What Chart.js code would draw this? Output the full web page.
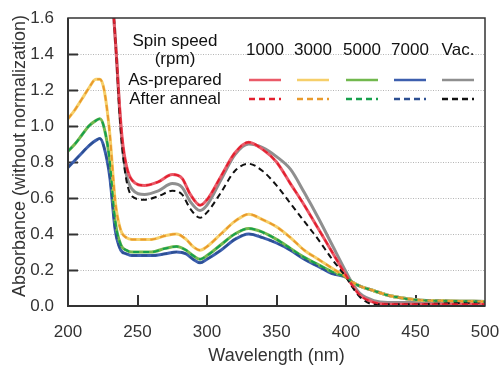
<!DOCTYPE html>
<html>
<head>
<meta charset="utf-8">
<script src="https://cdn.jsdelivr.net/npm/chart.js@4.4.0/dist/chart.umd.min.js"></script>
<style>
  body { margin: 0; background: #fff; }
  canvas { display: block; }
</style>
</head>
<body>
<canvas id="absChart" width="500" height="371"></canvas>
<script>
// wavelength grids (nm)
const wlLow = [200, 205, 210, 215, 220, 223, 226, 230, 234, 238, 242, 246, 250, 260, 270, 278, 285, 290, 295, 300,
    310, 320, 330, 340, 350, 360, 370, 380, 390, 400, 405, 410, 420, 430, 450, 475, 500];
const wlHigh = [226, 230, 233, 235, 237, 239, 242, 246, 255, 265, 275, 282, 288, 295, 300, 310, 320, 330, 340, 350,
    360, 370, 380, 390, 400, 405, 410, 420, 430, 450, 475, 500];

// absorbance, as-prepared films
const abs1000 = [2.6, 1.9, 1.6, 1.37, 1.12, 0.93, 0.78, 0.70, 0.67, 0.69, 0.73, 0.71, 0.62, 0.56, 0.59, 0.72,
    0.85, 0.91, 0.87, 0.80, 0.68, 0.56, 0.43, 0.30, 0.17, 0.11, 0.06, 0.02, 0.01, 0.01, 0.01, 0.01];
const abs3000 = [1.04, 1.09, 1.15, 1.21, 1.26, 1.26, 1.20, 0.96, 0.58, 0.42, 0.38, 0.37, 0.37, 0.37, 0.39, 0.40,
    0.37, 0.33, 0.31, 0.33, 0.40, 0.47, 0.51, 0.48, 0.44, 0.38, 0.31, 0.26, 0.21, 0.16, 0.13, 0.11, 0.085, 0.06,
    0.035, 0.028, 0.025];
const abs5000 = [0.86, 0.90, 0.95, 1.00, 1.03, 1.04, 0.99, 0.81, 0.47, 0.34, 0.31, 0.30, 0.30, 0.30, 0.32, 0.33,
    0.31, 0.28, 0.26, 0.28, 0.34, 0.40, 0.43, 0.41, 0.37, 0.32, 0.27, 0.23, 0.19, 0.16, 0.13, 0.11, 0.085, 0.06,
    0.035, 0.028, 0.025];
const abs7000 = [0.77, 0.81, 0.85, 0.89, 0.92, 0.93, 0.88, 0.72, 0.42, 0.31, 0.29, 0.28, 0.28, 0.28, 0.29, 0.30,
    0.29, 0.26, 0.24, 0.26, 0.31, 0.37, 0.40, 0.38, 0.35, 0.31, 0.26, 0.22, 0.18, 0.16, 0.13, 0.11, 0.085, 0.06,
    0.035, 0.028, 0.025];
const absVac = [2.6, 1.9, 1.6, 1.37, 1.10, 0.90, 0.73, 0.65, 0.62, 0.64, 0.68, 0.66, 0.58, 0.53, 0.56, 0.70,
    0.84, 0.90, 0.88, 0.83, 0.76, 0.63, 0.49, 0.34, 0.19, 0.12, 0.07, 0.03, 0.02, 0.02, 0.02, 0.02];

// absorbance after anneal (1000-7000 overlap the as-prepared spectra)
const ann1000 = abs1000;
const ann3000 = abs3000;
const ann5000 = abs5000;
const ann7000 = abs7000;
const annVac = [2.6, 1.9, 1.6, 1.36, 1.08, 0.88, 0.70, 0.61, 0.59, 0.61, 0.64, 0.62, 0.54, 0.49, 0.52, 0.63,
    0.75, 0.79, 0.75, 0.67, 0.57, 0.47, 0.37, 0.26, 0.16, 0.10, 0.05, 0.01, 0.01, 0.01, 0.015, 0.02];

const speeds = ['1000', '3000', '5000', '7000', 'Vac.'];
const xTicks = [200, 250, 300, 350, 400, 450, 500];
const yTicks = [0, 0.2, 0.4, 0.6, 0.8, 1.0, 1.2, 1.4, 1.6];

const solidColors = ['#ea5a68', '#f6cf6a', '#72b84e', '#3d5fae', '#8f8f8f'];
const dashColors = ['#e3202f', '#e99a2c', '#17a04c', '#2c4f92', '#111111'];

const FONT = 'Arial, "Liberation Sans", Helvetica, sans-serif';

function pts(xs, ys) {
    return xs.map((x, i) => ({ x: x, y: ys[i] }));
}

const asPrepared = [
    pts(wlHigh, abs1000), pts(wlLow, abs3000), pts(wlLow, abs5000), pts(wlLow, abs7000), pts(wlHigh, absVac)
];
const annealed = [
    pts(wlHigh, ann1000), pts(wlLow, ann3000), pts(wlLow, ann5000), pts(wlLow, ann7000), pts(wlHigh, annVac)
];

const datasets = [];
speeds.forEach((s, i) => {
    datasets.push({
        label: s + ' as-prepared',
        data: asPrepared[i],
        borderColor: solidColors[i],
        borderWidth: 3,
        pointRadius: 0,
        fill: false,
        cubicInterpolationMode: 'monotone',
        order: 2
    });
});
speeds.forEach((s, i) => {
    datasets.push({
        label: s + ' after anneal',
        data: annealed[i],
        borderColor: dashColors[i],
        borderWidth: 2,
        borderDash: [6, 4],
        pointRadius: 0,
        fill: false,
        cubicInterpolationMode: 'monotone',
        order: 1
    });
});

// dotted grid, inward ticks, frame, titles and the legend table
const decor = {
    id: 'decor',
    beforeDatasetsDraw(chart) {
        const { ctx, chartArea: a, scales } = chart;
        ctx.save();
        ctx.strokeStyle = '#b5b5b5';
        ctx.lineWidth = 1;
        ctx.setLineDash([1, 1.5]);
        yTicks.slice(1, -1).forEach(v => {
            const y = Math.round(scales.y.getPixelForValue(v)) + 0.5;
            ctx.beginPath();
            ctx.moveTo(a.left, y);
            ctx.lineTo(a.right, y);
            ctx.stroke();
        });
        ctx.setLineDash([]);
        ctx.strokeStyle = '#333';
        ctx.lineWidth = 2;
        yTicks.slice(1, -1).forEach(v => {
            const y = Math.round(scales.y.getPixelForValue(v)) + 0.5;
            ctx.beginPath();
            ctx.moveTo(a.left, y);
            ctx.lineTo(a.left + 10, y);
            ctx.stroke();
        });
        xTicks.slice(1, -1).forEach(v => {
            const x = Math.round(scales.x.getPixelForValue(v));
            ctx.beginPath();
            ctx.moveTo(x, a.bottom);
            ctx.lineTo(x, a.bottom - 11);
            ctx.stroke();
        });
        ctx.restore();
    },
    afterDraw(chart) {
        const { ctx, chartArea: a } = chart;
        ctx.save();
        ctx.strokeStyle = '#333';
        ctx.lineWidth = 1.5;
        ctx.strokeRect(a.left, a.top, a.right - a.left, a.bottom - a.top);
        ctx.lineWidth = 2;
        ctx.beginPath();
        ctx.moveTo(a.left, a.top);
        ctx.lineTo(a.left, a.bottom);
        ctx.lineTo(a.right, a.bottom);
        ctx.stroke();

        ctx.fillStyle = '#333';
        ctx.font = '18px ' + FONT;
        ctx.textAlign = 'center';
        ctx.textBaseline = 'middle';
        ctx.fillText('Wavelength (nm)', (a.left + a.right) / 2, 356);
        ctx.save();
        ctx.translate(20, 156);
        ctx.rotate(-Math.PI / 2);
        ctx.fillText('Absorbance (without normalization)', 0, 0);
        ctx.restore();

        // legend table
        ctx.fillStyle = '#111';
        ctx.font = '17px ' + FONT;
        ctx.fillText('Spin speed', 175, 41);
        ctx.fillText('(rpm)', 175, 59);
        ctx.fillText('As-prepared', 175, 80);
        ctx.fillText('After anneal', 175, 99);
        const cols = [265, 313, 362, 410, 458];
        speeds.forEach((s, i) => {
            const cx = cols[i];
            ctx.fillText(s, cx, 50);
            ctx.strokeStyle = solidColors[i];
            ctx.lineWidth = 2.5;
            ctx.setLineDash([]);
            ctx.beginPath();
            ctx.moveTo(cx - 16, 80);
            ctx.lineTo(cx + 16, 80);
            ctx.stroke();
            ctx.strokeStyle = dashColors[i];
            ctx.lineWidth = 2.5;
            ctx.setLineDash([6, 4]);
            ctx.beginPath();
            ctx.moveTo(cx - 16, 99);
            ctx.lineTo(cx + 16, 99);
            ctx.stroke();
        });
        ctx.restore();
    }
};

new Chart(document.getElementById('absChart'), {
    type: 'line',
    data: { datasets: datasets },
    options: {
        responsive: false,
        animation: false,
        devicePixelRatio: 1,
        layout: { padding: { top: 18, right: 15, left: 0, bottom: 0 } },
        plugins: { legend: { display: false }, tooltip: { enabled: false } },
        scales: {
            x: {
                type: 'linear',
                min: 200,
                max: 500,
                afterFit(scale) {
                    scale.height = 65;
                    scale.paddingLeft = 0;
                    scale.paddingRight = 0;
                },
                afterBuildTicks(scale) { scale.ticks = xTicks.map(v => ({ value: v })); },
                grid: { display: false },
                border: { display: false },
                ticks: { color: '#333', padding: 8, maxRotation: 0, font: { size: 17, family: FONT } }
            },
            y: {
                min: 0,
                max: 1.6,
                afterFit(scale) {
                    scale.width = 68;
                    scale.paddingTop = 0;
                    scale.paddingBottom = 0;
                },
                afterBuildTicks(scale) { scale.ticks = yTicks.map(v => ({ value: v })); },
                grid: { display: false },
                border: { display: false },
                ticks: {
                    color: '#333',
                    padding: 6,
                    font: { size: 17, family: FONT },
                    callback: v => Number(v).toFixed(1)
                }
            }
        }
    },
    plugins: [decor]
});
</script>
</body>
</html>
